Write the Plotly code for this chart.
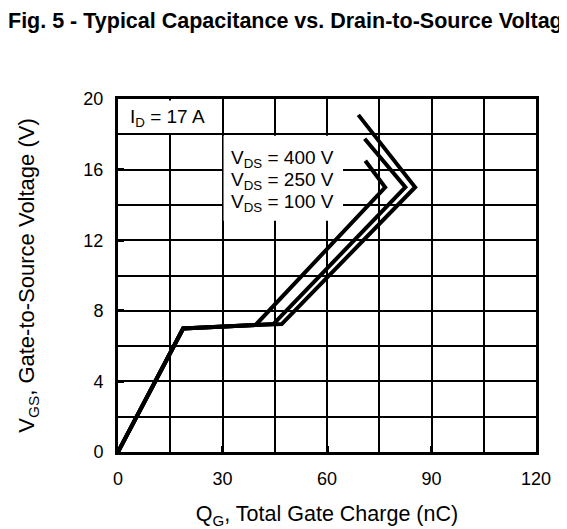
import plotly.graph_objects as go

# Data
x_100 = [0, 18.7, 39.5, 76.7, 71.0]
y_100 = [0, 7.0, 7.2, 15.0, 16.5]
x_250 = [0, 18.7, 39.5, 44.6, 82.5, 70.8]
y_250 = [0, 7.0, 7.2, 7.25, 15.0, 17.75]
x_400 = [0, 18.7, 39.5, 47.0, 85.3, 69.0]
y_400 = [0, 7.0, 7.2, 7.25, 15.0, 19.1]

x_ticks = [0, 30, 60, 90, 120]
y_ticks = [0, 4, 8, 12, 16, 20]

FONT = "Liberation Sans, Arial, Helvetica, sans-serif"

fig = go.Figure()
for xs, ys, name in [(x_100, y_100, "100 V"), (x_250, y_250, "250 V"), (x_400, y_400, "400 V")]:
    fig.add_trace(go.Scatter(x=xs, y=ys, mode="lines", name=name,
                             line=dict(color="black", width=4), showlegend=False,
                             hoverinfo="skip"))

axis_common = dict(
    showline=True, linecolor="black", linewidth=3, mirror=True,
    showgrid=True, gridcolor="black", gridwidth=1.6,
    zeroline=False, ticks="inside", ticklen=6, tickwidth=3, tickcolor="black",
    tickfont=dict(family=FONT, size=18, color="black"),
    automargin=False,
)

fig.update_xaxes(range=[0, 120], tickvals=x_ticks, ticktext=[str(v) for v in x_ticks],
                 minor=dict(dtick=15, showgrid=True, gridcolor="black", gridwidth=1.6, ticks=""),
                 ticklabelstandoff=8,
                 title=dict(text="Q<sub>G</sub>, Total Gate Charge (nC)",
                            font=dict(family=FONT, size=21.5, color="black"), standoff=19),
                 **axis_common)
fig.update_yaxes(range=[0, 20], tickvals=y_ticks, ticktext=[str(v) for v in y_ticks],
                 minor=dict(dtick=2, showgrid=True, gridcolor="black", gridwidth=1.6, ticks=""),
                 ticklabelstandoff=8,
                 title=dict(text="V<sub>GS</sub>, Gate-to-Source Voltage (V)",
                            font=dict(family=FONT, size=22, color="black"), standoff=43),
                 **axis_common)

# white label boxes hiding grid lines
fig.add_shape(type="rect", x0=0.4, x1=29.6, y0=18.08, y1=19.92, fillcolor="white",
              line=dict(width=0), layer="between")
fig.add_shape(type="rect", x0=30.3, x1=64.6, y0=13.1, y1=17.92, fillcolor="white",
              line=dict(width=0), layer="between")

fig.add_annotation(x=2.9, y=18.95, text="I<sub>D</sub> = 17 A", showarrow=False,
                   xanchor="left", yanchor="middle",
                   font=dict(family=FONT, size=19, color="black"))
for yv, lab in [(16.6, "400 V"), (15.35, "250 V"), (14.1, "100 V")]:
    fig.add_annotation(x=47.1, y=yv, text="V<sub>DS</sub> = " + lab, showarrow=False,
                       xanchor="center", yanchor="middle",
                       font=dict(family=FONT, size=19, color="black"))

fig.update_layout(
    template="none",
    width=567, height=529,
    margin=dict(l=110, r=39, t=91, b=85),
    paper_bgcolor="white", plot_bgcolor="white",
    title=dict(text="<b>Fig. 5 - Typical Capacitance vs. Drain-to-Source Voltage</b>",
               xref="container", x=0.0, xanchor="left", yref="container", y=0.977, yanchor="middle",
               font=dict(family=FONT, size=21.5, color="black")),
)

fig.write_html("out.html")
